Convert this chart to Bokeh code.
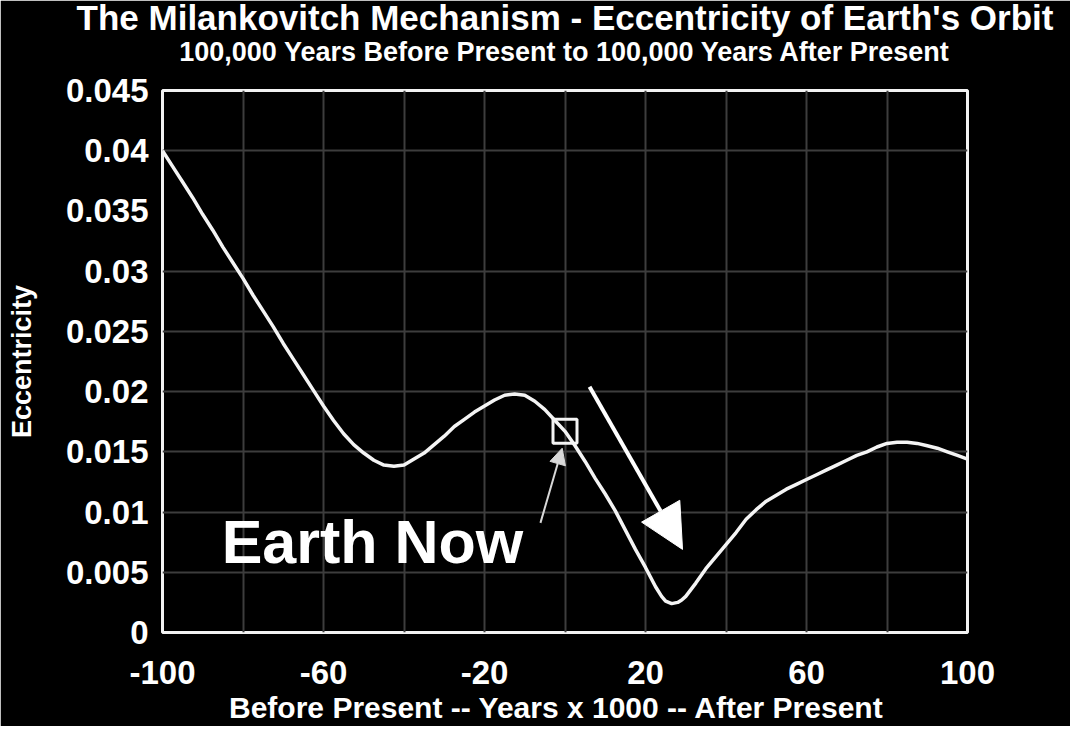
from bokeh.plotting import figure
from bokeh.models import (Range1d, FixedTicker, CustomJSTickFormatter, Label,
                          Arrow, NormalHead, ColumnDataSource, Title,
                          LinearAxis)
from bokeh.embed import file_html
from bokeh.resources import INLINE

# ---- data ----
years_k = [-100, -97.5, -95, -92.5, -90, -87.5, -85, -82.5, -80, -77.5, -75,
           -72.5, -70, -67.5, -65, -62.5, -60, -57.5, -55, -52.5, -50, -47.5,
           -45, -42.5, -40, -37.5, -35, -32.5, -30, -27.5, -25, -22.5, -20,
           -17.5, -15, -12.5, -10, -7.5, -5, -2.5, 0, 2.5, 5, 7.5, 10, 12.5,
           15, 17.5, 20, 22.5, 24, 25, 26.5, 28, 29, 30, 32.5, 35, 37.5, 40,
           42.5, 45, 47.5, 50, 52.5, 55, 57.5, 60, 62.5, 65, 67.5, 70, 72.5,
           75, 77.5, 80, 82.5, 85, 87.5, 90, 92.5, 95, 97.5, 100]
eccentricity = [0.0400, 0.0387, 0.0374, 0.0361, 0.0347, 0.0334, 0.0320, 0.0307,
                0.0294, 0.0280, 0.0267, 0.0254, 0.0240, 0.0227, 0.0214, 0.0201,
                0.0188, 0.0176, 0.0165, 0.0156, 0.0149, 0.0143, 0.0139, 0.0138,
                0.0139, 0.0144, 0.0149, 0.0156, 0.0163, 0.0171, 0.0177, 0.0183,
                0.0188, 0.0193, 0.0197, 0.0198, 0.0197, 0.0192, 0.0185, 0.0176,
                0.0167, 0.0155, 0.0142, 0.0128, 0.0115, 0.0101, 0.0085, 0.0069,
                0.0054, 0.0038, 0.0030, 0.0026, 0.0024, 0.0025, 0.0027, 0.0030,
                0.0041, 0.0053, 0.0063, 0.0073, 0.0083, 0.0094, 0.0102, 0.0109,
                0.0114, 0.0119, 0.0123, 0.0127, 0.0131, 0.0135, 0.0139, 0.0143,
                0.0147, 0.0150, 0.0154, 0.0157, 0.0158, 0.0158, 0.0157, 0.0155,
                0.0153, 0.0150, 0.0147, 0.0144]

now_year = [0]
now_ecc = [0.0167]

x_tick_labels = [-100, -60, -20, 20, 60, 100]
x_grid_lines = [-80, -60, -40, -20, 0, 20, 40, 60, 80]
y_tick_labels = [0, 0.005, 0.01, 0.015, 0.02, 0.025, 0.03, 0.035, 0.04, 0.045]
y_grid_lines = [0.005, 0.01, 0.015, 0.02, 0.025, 0.03, 0.04]

title_text = "The Milankovitch Mechanism - Eccentricity of Earth's Orbit"
subtitle_text = "100,000 Years Before Present to 100,000 Years After Present"
x_label = "Before Present --  Years x 1000 --  After Present"
y_label = "Eccentricity"
note_text = "Earth Now"

FONT = "Liberation Sans"

p = figure(width=1070, height=726, output_backend="svg", toolbar_location=None,
           x_range=Range1d(-100, 100), y_range=Range1d(0, 0.045),
           min_border_left=162, min_border_right=103, min_border_top=90,
           min_border_bottom=94)

p.background_fill_color = "black"
p.border_fill_color = "black"
p.outline_line_color = "#f2f2f2"
p.outline_line_width = 3

# --- heading panels (first added sits nearest the plot) ---
# empty gap between the plot box and the subtitle
gap = LinearAxis(ticker=FixedTicker(ticks=[]), axis_line_color=None,
                 major_tick_line_color=None, minor_tick_line_color=None,
                 major_label_text_color=None, major_tick_out=20,
                 major_tick_in=0, major_label_standoff=0)
p.add_layout(gap, "above")
p.add_layout(Title(text=subtitle_text, align="center", vertical_align="bottom",
                   text_color="white", text_font=FONT,
                   text_font_style="bold", text_font_size="27px",
                   standoff=8), "above")
p.add_layout(Title(text=title_text, align="center", vertical_align="bottom",
                   text_color="white", text_font=FONT,
                   text_font_style="bold", text_font_size="35px",
                   standoff=-12), "above")

# grids
p.xgrid.ticker = FixedTicker(ticks=x_grid_lines)
p.ygrid.ticker = FixedTicker(ticks=y_grid_lines)
for g in (p.xgrid, p.ygrid):
    g.grid_line_color = "#3d3d3d"
    g.grid_line_width = 2

# axes
p.xaxis.ticker = FixedTicker(ticks=x_tick_labels)
p.yaxis.ticker = FixedTicker(ticks=y_tick_labels)
xax = p.below[0]
yax = p.left[0]
xax.formatter = CustomJSTickFormatter(code="return tick.toString();")
yax.formatter = CustomJSTickFormatter(
    code="return tick === 0 ? '0' : tick.toFixed(3).replace(/0+$/, '');")
for ax in (xax, yax):
    ax.axis_line_color = None
    ax.major_tick_line_color = None
    ax.minor_tick_line_color = None
    ax.major_tick_out = 0
    ax.major_tick_in = 0
    ax.major_label_text_color = "white"
    ax.major_label_text_font = FONT
    ax.major_label_text_font_style = "bold"
    ax.axis_label_text_color = "white"
    ax.axis_label_text_font = FONT
    ax.axis_label_text_font_style = "bold"

xax.major_label_text_font_size = "33px"
yax.major_label_text_font_size = "33px"
xax.major_label_standoff = 28
yax.major_label_standoff = 14
xax.axis_label = x_label
xax.axis_label_text_font_size = "30px"
xax.axis_label_standoff = 4
yax.axis_label = y_label
yax.axis_label_text_font_size = "27px"
yax.axis_label_standoff = 26

# curve
src = ColumnDataSource(dict(x=years_k, y=eccentricity))
p.line("x", "y", source=src, line_color="#f4f4f4", line_width=3.5,
       line_join="round")

# "now" marker
p.scatter(now_year, now_ecc, marker="square", size=24, fill_color=None,
          line_color="#f4f4f4", line_width=3)

# small pointer arrow to the marker
p.add_layout(Arrow(end=NormalHead(size=16, fill_color="#d8d8d8",
                                  line_color="#d8d8d8"),
                   x_start=-6.1, y_start=0.0091, x_end=-0.7, y_end=0.0153,
                   line_color="#d8d8d8", line_width=2))

# big arrow
p.add_layout(Arrow(end=NormalHead(size=44, fill_color="white",
                                  line_color="white"),
                   x_start=6.1, y_start=0.0204, x_end=29.2, y_end=0.0069,
                   line_color="white", line_width=4))

# "Earth Now" text
p.add_layout(Label(x=-85.3, y=0.0075, text=note_text, text_color="white",
                   text_font=FONT, text_font_style="bold",
                   text_font_size="61px", text_align="left",
                   text_baseline="alphabetic"))

open("out.html", "w").write(file_html(p, INLINE))
